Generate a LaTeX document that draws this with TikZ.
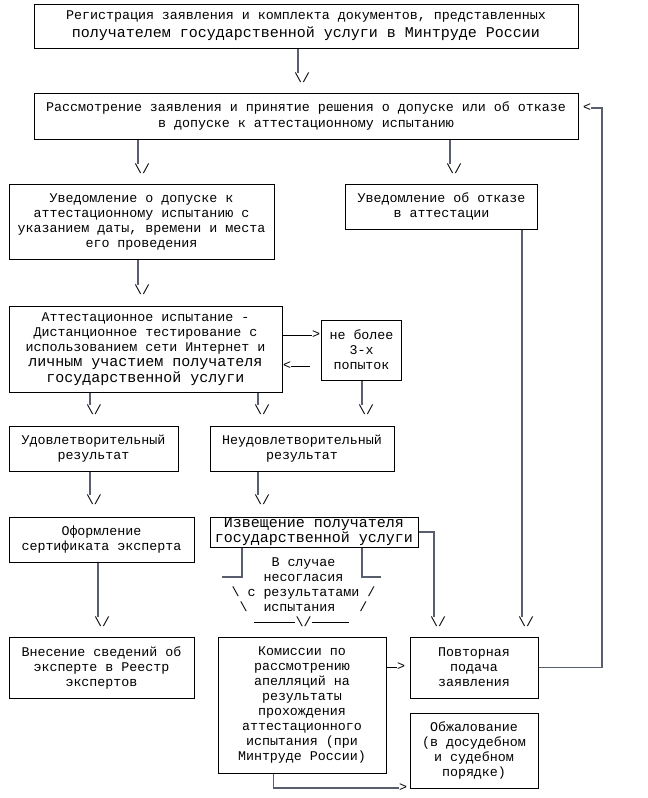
\documentclass[tikz,border=0pt]{standalone}
\usepackage{fontspec}
\usepackage{xcolor}
\newfontfamily\crfont{Liberation Mono}
\newcommand{\lgtxt}{\fontsize{15}{17}\selectfont}
\definecolor{lncol}{RGB}{88,94,110}
\begin{document}
\begin{tikzpicture}[x=1pt,y=-1pt,
    blk/.style={draw, line width=1pt, align=center, inner sep=0pt,
      font=\crfont\fontsize{13.33}{15}\selectfont},
    tip/.style={inner sep=0pt, font=\crfont\fontsize{13.33}{15}\selectfont},
    cn/.style={draw=lncol, line width=1.6pt},
    hcn/.style={draw=black, line width=1pt}]
    \useasboundingbox (0,0) rectangle (648,798);
    % boxes
    \node [blk, minimum width=544pt, minimum height=44pt] (reg) at (306,26)
      {Регистрация заявления и комплекта документов, представленных\\[3pt]
       {\lgtxt получателем государственной услуги в Минтруде России}};
    \node [blk, minimum width=544pt, minimum height=46pt] (rsm) at (306,116)
      {Рассмотрение заявления и принятие решения о допуске или об отказе\\[1.5pt]
       в допуске к аттестационному испытанию};
    \node [blk, minimum width=265pt, minimum height=75pt] (dop) at (141.5,221.5)
      {Уведомление о допуске к\\ аттестационному испытанию с\\
       указанием даты, времени и места\\ его проведения};
    \node [blk, minimum width=192pt, minimum height=45pt] (otk) at (441.5,206.5)
      {Уведомление об отказе\\ в аттестации};
    \node [blk, minimum width=273pt, minimum height=86pt] (ats) at (145.5,349)
      {Аттестационное испытание -~\\ Дистанционное тестирование с~\\
       использованием сети Интернет и~\\
       {\lgtxt личным участием получателя~}\\[1pt]
       {\lgtxt государственной услуги~}};
    \node [blk, minimum width=80pt, minimum height=60pt] (pop) at (361.5,350)
      {не более\\ 3-х\\ попыток};
    \node [blk, minimum width=169pt, minimum height=45pt] (udv) at (93.5,448.5)
      {Удовлетворительный\\ результат};
    \node [blk, minimum width=184pt, minimum height=45pt] (neu) at (302,448.5)
      {Неудовлетворительный\\ результат};
    \node [blk, minimum width=185pt, minimum height=45pt] (sert) at (101.5,539.5)
      {Оформление\\ сертификата эксперта};
    \node [blk, minimum width=208pt, minimum height=30pt] (izv) at (314,532)
      {\lgtxt Извещение получателя\\ \lgtxt государственной услуги};
    \node [blk, minimum width=185pt, minimum height=61pt] (reestr) at (101.5,667.5)
      {Внесение сведений об\\ эксперте в Реестр\\ экспертов};
    \node [blk, minimum width=168pt, minimum height=136pt] (kom) at (302,705)
      {Комиссии по\\ рассмотрению\\ апелляций на\\ результаты\\ прохождения\\
       аттестационного\\ испытания (при\\ Минтруде России)};
    \node [blk, minimum width=128pt, minimum height=61pt] (povt) at (474,667.5)
      {Повторная\\ подача~\\ заявления};
    \node [blk, minimum width=128pt, minimum height=75pt] (obzh) at (474,750.5)
      {Обжалование\\ (в досудебном\\ и судебном~\\ порядке)};
    % case text
    \node [tip, align=left] (case) at (303.5,585)
      {~~~~~В случае\\ ~~~~несогласия\\
       \textbackslash{}~с~результатами~/\\ ~\textbackslash{}~~испытания~~~/};
    % arrow marks
    \node [tip] (t1) at (302,78) {\textbackslash/};
    \node [tip] (t2) at (142,169) {\textbackslash/};
    \node [tip] (t3) at (454,169) {\textbackslash/};
    \node [tip] (t4) at (142,290) {\textbackslash/};
    \node [tip] (t5) at (94,410) {\textbackslash/};
    \node [tip] (t6) at (262,410) {\textbackslash/};
    \node [tip] (t7) at (366,410) {\textbackslash/};
    \node [tip] (t8) at (94,500) {\textbackslash/};
    \node [tip] (t9) at (262,500) {\textbackslash/};
    \node [tip] (t10) at (102,622) {\textbackslash/};
    \node [tip] (t11) at (303.5,622) {\textbackslash/};
    \node [tip] (t12) at (438,622) {\textbackslash/};
    \node [tip] (t13) at (526,622) {\textbackslash/};
    \node [tip] (g1) at (316,335) {>};
    \node [tip] (l2) at (287,366) {<};
    \node [tip] (g3) at (401,667) {>};
    \node [tip] (g4) at (403,788) {>};
    \node [tip] (l1) at (587,108) {<};
    \coordinate (fb) at (602,108);
    \coordinate (lb) at (310,366);
    \coordinate (bl) at (222,577);
    \coordinate (br) at (381,577);
    \coordinate (cl) at (254,622);
    \coordinate (cr) at (349,622);
    % connectors
    \draw [cn] ([xshift=-4pt]reg.south -| t1.north) -- ([xshift=-4pt]t1.north);
    \draw [cn] ([xshift=-4pt]rsm.south -| t2.north) -- ([xshift=-4pt]t2.north);
    \draw [cn] ([xshift=-4pt]rsm.south -| t3.north) -- ([xshift=-4pt]t3.north);
    \draw [cn] ([xshift=-4pt]dop.south -| t4.north) -- ([xshift=-4pt]t4.north);
    \draw [cn] ([xshift=-4pt]ats.south -| t5.north) -- ([xshift=-4pt]t5.north);
    \draw [cn] ([xshift=-4pt]ats.south -| t6.north) -- ([xshift=-4pt]t6.north);
    \draw [cn] ([xshift=-4pt]pop.south -| t7.north) -- ([xshift=-4pt]t7.north);
    \draw [cn] ([xshift=-4pt]udv.south -| t8.north) -- ([xshift=-4pt]t8.north);
    \draw [cn] ([xshift=-4pt]neu.south -| t9.north) -- ([xshift=-4pt]t9.north);
    \draw [cn] ([xshift=-4pt]sert.south -| t10.north) -- ([xshift=-4pt]t10.north);
    \draw [cn] ([xshift=-4pt]otk.south -| t13.north) -- ([xshift=-4pt]t13.north);
    \draw [cn] (izv.east) -| ([xshift=-4pt]t12.north);
    \draw [cn] (izv.south) ++(-72,0) |- (bl);
    \draw [cn] (izv.south) ++(48,0) |- (br);
    \draw [hcn] (cl) -- (t11.west);
    \draw [hcn] (t11.east) -- (cr);
    \draw [hcn] (ats.east |- g1) -- (g1.west);
    \draw [hcn] (lb) -- (l2.east);
    \draw [hcn] (kom.east |- g3) -- (g3.west);
    \draw [cn] (kom.south) ++(-28.5,0) |- (g4.west);
    \draw [cn] (povt.east) -| (fb) -- (l1.east);
\end{tikzpicture}
\end{document}
